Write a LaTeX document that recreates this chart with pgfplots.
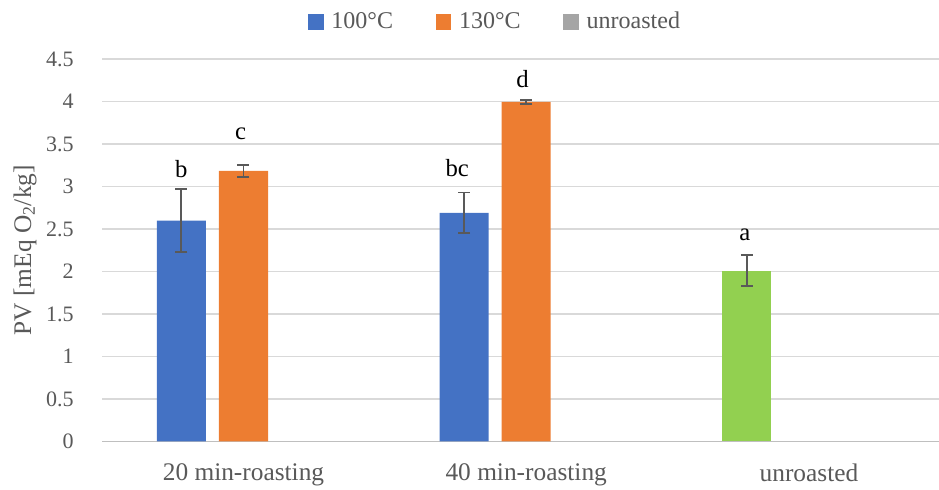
\documentclass[border=0pt]{standalone}
\usepackage{fontspec}
\setmainfont{Liberation Serif}
\usepackage{pgfplots}
\pgfplotsset{compat=1.18}
\definecolor{blue1}{HTML}{4472C4}
\definecolor{orange1}{HTML}{ED7D31}
\definecolor{gray1}{HTML}{A5A5A5}
\definecolor{green1}{HTML}{92D050}
\definecolor{gridgray}{HTML}{D9D9D9}
\definecolor{axgray}{HTML}{BFBFBF}
\definecolor{txtgray}{HTML}{595959}
\definecolor{errgray}{HTML}{595959}
\begin{document}
\fontsize{17}{20}\selectfont
\begin{tikzpicture}
\begin{axis}[
  scale only axis, width=627pt, height=286.5pt,
  xmin=-0.5, xmax=2.46, ymin=0, ymax=4.5,
  ytick={0,0.5,1,1.5,2,2.5,3,3.5,4,4.5},
  ymajorgrids, grid style={draw=gridgray, line width=1.1pt},
  major tick length=0pt,
  xtick={0,1,2}, xticklabels={20 min-roasting, 40 min-roasting, unroasted},
  axis x line*=bottom, axis y line*=left,
  y axis line style={draw=none}, x axis line style={draw=axgray, line width=1.1pt},
  tick label style={text=txtgray},
  yticklabel style={font=\fontsize{16.5}{19}\selectfont, xshift=-15.5pt},
  xticklabel style={font=\fontsize{19}{22}\selectfont, yshift=-11pt},
  /pgf/number format/assume math mode=true,
  ylabel={PV [mEq O\textsubscript{2}/kg]},
  ylabel style={text=txtgray, font=\fontsize{19}{22}\selectfont,
    at={(axis description cs:-0.092,0.5)}, anchor=center},
  ybar, bar width=36.75pt,
  legend columns=3,
  legend style={draw=none, at={(0.47,1)}, anchor=center, yshift=27.75pt,
    text=txtgray, font=\fontsize{18}{21}\selectfont,
    /tikz/every even column/.append style={column sep=30pt}},
  error bars/error bar style={line width=1.4pt, draw=errgray},
  error bars/error mark options={rotate=90, mark size=4.5pt, line width=1.4pt, draw=errgray},
]
\addlegendimage{legend image code/.code={\fill[blue1] (0pt,-5.5pt) rectangle (11pt,5.5pt); \path (15pt,0pt);}}
\addlegendentry{100°C}
\addlegendimage{legend image code/.code={\fill[orange1] (0pt,-5.5pt) rectangle (11pt,5.5pt); \path (15pt,0pt);}}
\addlegendentry{130°C}
\addlegendimage{legend image code/.code={\fill[gray1] (0pt,-5.5pt) rectangle (11pt,5.5pt); \path (15pt,0pt);}}
\addlegendentry{unroasted}

\addplot[forget plot, fill=blue1, draw=none, bar shift=-46.5pt,
  error bars/.cd, y dir=both, y explicit]
  coordinates {(0,2.60) +- (0,0.37) (1,2.69) +- (0,0.24)};
\addplot[forget plot, fill=orange1, draw=none, bar shift=0pt,
  error bars/.cd, y dir=both, y explicit]
  coordinates {(0,3.185) +- (0,0.07) (1,3.995) +- (0,0.02)};
\addplot[forget plot, fill=green1, draw=none, bar shift=-46.5pt,
  error bars/.cd, y dir=both, y explicit]
  coordinates {(2,2.01) +- (0,0.18)};

\begin{scope}[font=\fontsize{18.5}{21}\selectfont]
\node[anchor=base] at (axis cs:-0.22,3.106) {b};
\node[anchor=base] at (axis cs:-0.01,3.55) {c};
\node[anchor=base] at (axis cs:0.756,3.12) {bc};
\node[anchor=base] at (axis cs:0.987,4.16) {d};
\node[anchor=base] at (axis cs:1.773,2.37) {a};
\end{scope}
\end{axis}
\pgfresetboundingbox
\path ([xshift=-76.5pt,yshift=-36pt]current axis.south west) rectangle ([yshift=44.25pt]current axis.north east);
\end{tikzpicture}
\end{document}
